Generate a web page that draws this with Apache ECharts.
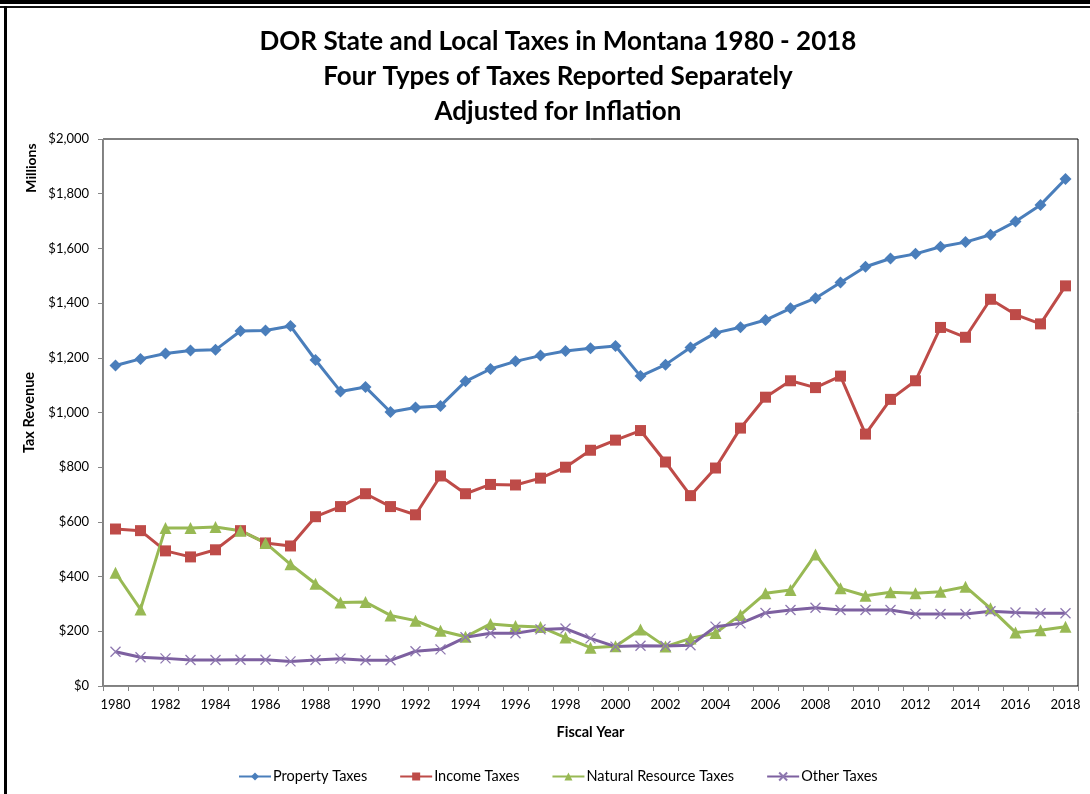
<!DOCTYPE html>
<html>
<head>
<meta charset="utf-8">
<script src="https://cdn.jsdelivr.net/npm/echarts@6/dist/echarts.min.js"></script>
<style>
  html, body { margin: 0; padding: 0; background: #fff; }
  #chart { width: 1090px; height: 794px; }
</style>
</head>
<body>
<div id="chart"></div>
<script>
// Fiscal years 1980-2018
const years = [];
for (let y = 1980; y <= 2018; y++) years.push(String(y));

// Tax revenue, millions of inflation-adjusted dollars
const propertyTaxes = [1172, 1196, 1216, 1227, 1229, 1298, 1300, 1316, 1192, 1077, 1093, 1002, 1018,
  1024, 1114, 1159, 1187, 1208, 1225, 1235, 1243, 1133, 1175, 1238, 1291, 1312,
  1338, 1381, 1418, 1475, 1533, 1563, 1580, 1606, 1623, 1650, 1698, 1759, 1854];
const incomeTaxes = [574, 568, 494, 472, 498, 568, 523, 512, 619, 656, 703, 656, 626,
  768, 703, 737, 735, 760, 800, 862, 899, 934, 819, 696, 797, 943,
  1056, 1116, 1091, 1133, 921, 1048, 1116, 1311, 1275, 1414, 1358, 1324, 1463];
const naturalResourceTaxes = [414, 280, 578, 578, 581, 568, 523, 445, 374, 305, 307, 258, 239,
  202, 180, 227, 219, 216, 177, 140, 145, 207, 144, 174, 194, 260,
  339, 351, 481, 357, 330, 343, 339, 345, 363, 284, 196, 204, 217];
const otherTaxes = [125, 105, 101, 95, 95, 96, 96, 90, 95, 100, 94, 94, 127,
  134, 178, 193, 193, 207, 210, 174, 144, 147, 146, 149, 217, 229,
  267, 278, 286, 278, 278, 278, 263, 263, 263, 273, 269, 266, 266];

const titleLines = [
  'DOR State and Local Taxes in Montana 1980 - 2018',
  'Four Types of Taxes Reported Separately',
  'Adjusted for Inflation'
];

const FONT = 'Lato, "Open Sans", sans-serif';
const AXIS_GRAY = '#868686';
const X_SYMBOL = 'path://M0,0L10,10M10,0L0,10';

function lineSeries(name, data, color, symbol, size, extra) {
  return Object.assign({
    name: name,
    type: 'line',
    data: data,
    symbol: symbol,
    symbolSize: size,
    showAllSymbol: true,
    lineStyle: { color: color, width: 3 },
    itemStyle: { color: color },
    emphasis: { disabled: true },
    animation: false
  }, extra || {});
}

// Three centred title lines
const titleGraphics = titleLines.map((line, i) => ({
  type: 'text',
  x: 558, y: 42 + i * 35,
  style: {
    text: line, fill: '#000', font: 'bold 26px ' + FONT,
    align: 'center', verticalAlign: 'middle'
  },
  silent: true
}));

const chart = echarts.init(document.getElementById('chart'), null, { renderer: 'canvas' });

chart.setOption({
  backgroundColor: '#fff',
  textStyle: { fontFamily: FONT },
  graphic: [
    { type: 'rect', shape: { x: 0, y: 0, width: 1090, height: 4 }, style: { fill: '#000' }, silent: true },
    { type: 'rect', shape: { x: 0, y: 6, width: 1090, height: 2 }, style: { fill: '#111' }, silent: true },
    { type: 'rect', shape: { x: 4, y: 6, width: 3, height: 788 }, style: { fill: '#000' }, silent: true },
    {
      type: 'text',
      x: 31, y: 168,
      rotation: Math.PI / 2,
      style: {
        text: 'Millions', fill: '#000', font: 'bold 14px ' + FONT,
        align: 'center', verticalAlign: 'middle'
      },
      silent: true
    }
  ].concat(titleGraphics),
  legend: {
    bottom: 5,
    left: 233,
    itemWidth: 32,
    itemHeight: 10,
    itemGap: 32,
    textStyle: { fontFamily: FONT, fontSize: 14.5, color: '#000', padding: [0, 0, 0, -3] },
    data: ['Property Taxes', 'Income Taxes', 'Natural Resource Taxes', 'Other Taxes']
  },
  grid: {
    left: 103, right: 12, top: 139, bottom: 108,
    show: true, borderColor: '#000', borderWidth: 1, backgroundColor: '#fff'
  },
  xAxis: {
    type: 'category',
    data: years,
    boundaryGap: true,
    name: 'Fiscal Year',
    nameLocation: 'middle',
    nameGap: 39,
    nameTextStyle: { fontFamily: FONT, fontSize: 14.5, fontWeight: 'bold', color: '#000' },
    axisLine: { lineStyle: { color: AXIS_GRAY, width: 1 } },
    axisTick: { show: true, interval: 0, length: 5, lineStyle: { color: AXIS_GRAY } },
    axisLabel: { interval: 1, margin: 12, fontFamily: FONT, fontSize: 13, color: '#000' },
    splitLine: { show: false }
  },
  yAxis: {
    type: 'value',
    min: 0, max: 2000, interval: 200,
    name: 'Tax Revenue',
    nameLocation: 'middle',
    nameRotate: 90,
    nameGap: 66,
    nameTextStyle: { fontFamily: FONT, fontSize: 14.5, fontWeight: 'bold', color: '#000' },
    axisLine: { show: true, lineStyle: { color: AXIS_GRAY, width: 1 } },
    axisTick: { show: true, length: 5, lineStyle: { color: AXIS_GRAY } },
    axisLabel: {
      margin: 14, fontFamily: FONT, fontSize: 13, color: '#000',
      formatter: v => '$' + v.toLocaleString('en-US')
    },
    splitLine: { show: false }
  },
  series: [
    lineSeries('Property Taxes', propertyTaxes, '#4A7EBB', 'diamond', 12),
    lineSeries('Income Taxes', incomeTaxes, '#BE4B48', 'rect', 11),
    lineSeries('Natural Resource Taxes', naturalResourceTaxes, '#98B954', 'triangle', 12),
    lineSeries('Other Taxes', otherTaxes, '#7D60A0', X_SYMBOL, 10, {
      itemStyle: { color: 'none', borderColor: '#8E78B0', borderWidth: 1.3 }
    })
  ]
});
</script>
</body>
</html>
